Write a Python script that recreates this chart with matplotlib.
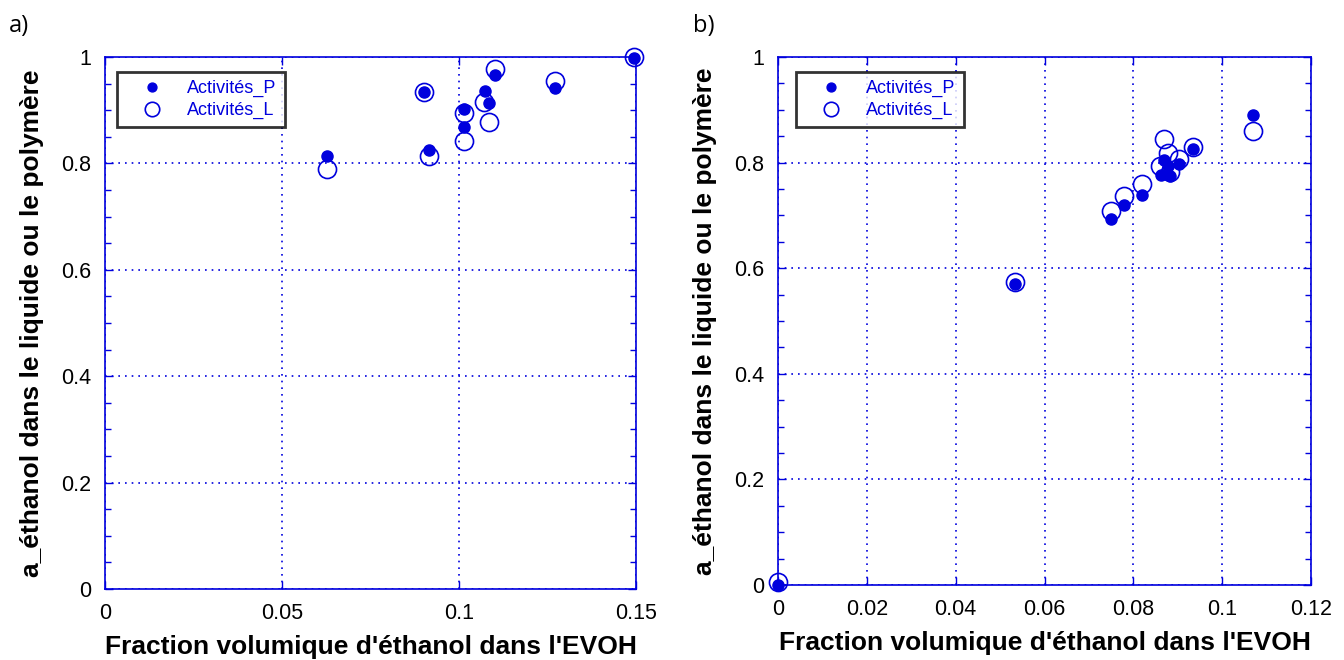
import matplotlib
matplotlib.use("Agg")
import matplotlib.pyplot as plt
from matplotlib.ticker import MultipleLocator

# Panel a data
a_x_P = [0.0626, 0.0901, 0.0916, 0.1015, 0.1015, 0.1073, 0.1086, 0.1102, 0.1271, 0.1494]
a_y_P = [0.813, 0.934, 0.825, 0.902, 0.868, 0.936, 0.913, 0.967, 0.942, 0.999]
a_x_L = [0.0626, 0.0901, 0.0916, 0.1015, 0.1015, 0.1071, 0.1086, 0.1102, 0.1271, 0.1494]
a_y_L = [0.789, 0.935, 0.813, 0.894, 0.843, 0.915, 0.877, 0.978, 0.955, 1.000]

# Panel b data
b_x_P = [0.0, 0.0534, 0.0750, 0.0778, 0.0819, 0.0862, 0.0869, 0.0879, 0.0882, 0.0902, 0.0934, 0.1069]
b_y_P = [0.0, 0.570, 0.694, 0.719, 0.739, 0.776, 0.805, 0.794, 0.775, 0.798, 0.825, 0.891]
b_x_L = [0.0, 0.0534, 0.0750, 0.0778, 0.0819, 0.0860, 0.0868, 0.0879, 0.0882, 0.0903, 0.0934, 0.1069]
b_y_L = [0.005, 0.574, 0.709, 0.737, 0.760, 0.794, 0.845, 0.818, 0.783, 0.806, 0.830, 0.859]

a_xticks = [0, 0.05, 0.1, 0.15]
a_xticklabels = ["0", "0.05", "0.1", "0.15"]
b_xticks = [0, 0.02, 0.04, 0.06, 0.08, 0.1, 0.12]
b_xticklabels = ["0", "0.02", "0.04", "0.06", "0.08", "0.1", "0.12"]
yticks = [0, 0.2, 0.4, 0.6, 0.8, 1.0]
yticklabels = ["0", "0.2", "0.4", "0.6", "0.8", "1"]

xlabel = "Fraction volumique d'éthanol dans l'EVOH"
ylabel = "a_éthanol dans le liquide ou le polymère"
leg_P = "Activités_P"
leg_L = "Activités_L"

BLUE = "#0000dd"
plt.rcParams['font.family'] = ['Liberation Sans', 'DejaVu Sans']

fig = plt.figure(figsize=(13.44, 6.6), dpi=100)
ax_a = fig.add_axes([105/1344, 1-589/660, (636-105)/1344, (589-57)/660])
ax_b = fig.add_axes([778/1344, 1-585/660, (1311-778)/1344, (585-57)/660])

def style(ax, xp, yp, xl, yl, xt, xtl, xlim, legend_anchor):
    ax.plot(xl, yl, linestyle='none', marker='o', markersize=13, markerfacecolor='none',
            markeredgecolor=BLUE, markeredgewidth=1.2, label=leg_L, zorder=3, clip_on=False)
    ax.plot(xp, yp, linestyle='none', marker='o', markersize=8, color=BLUE,
            label=leg_P, zorder=4, clip_on=False)
    ax.set_xlim(*xlim)
    ax.set_ylim(0, 1)
    ax.set_xticks(xt)
    ax.set_xticklabels(xtl)
    ax.set_yticks(yticks)
    ax.set_yticklabels(yticklabels)
    ax.yaxis.set_minor_locator(MultipleLocator(0.05))
    ax.tick_params(which='both', direction='in', top=True, right=True, color=BLUE,
                   labelcolor='black', labelsize=15.5, pad=10)
    ax.tick_params(which='major', length=6, width=1)
    ax.tick_params(which='minor', length=4, width=1)
    ax.grid(True, which='major', linestyle=(0, (1, 3)), color=BLUE, linewidth=1.2)
    for s in ax.spines.values():
        s.set_color(BLUE)
        s.set_linewidth(1.2)
    ax.set_xlabel(xlabel, fontsize=19, fontweight='bold', labelpad=8)
    ax.set_ylabel(ylabel, fontsize=19, fontweight='bold', labelpad=12)
    h, l = ax.get_legend_handles_labels()
    leg = ax.legend([h[1], h[0]], [l[1], l[0]], loc='upper left', bbox_to_anchor=legend_anchor,
                    fontsize=13, labelcolor=BLUE, frameon=True, fancybox=False,
                    edgecolor='black', borderpad=0.45, handletextpad=0.45, markerscale=0.8,
                    borderaxespad=0, labelspacing=0.25, handlelength=3.0)
    leg.get_frame().set_linewidth(2)

style(ax_a, a_x_P, a_y_P, a_x_L, a_y_L, a_xticks, a_xticklabels, (0, 0.15), (12/531, 1-15/532))
style(ax_b, b_x_P, b_y_P, b_x_L, b_y_L, b_xticks, b_xticklabels, (0, 0.12), (18/533, 1-15/528))

fig.text(9/1344, 1-32/660, "a)", fontsize=17, family=['Open Sans', 'DejaVu Sans'], va='baseline')
fig.text(693/1344, 1-32/660, "b)", fontsize=17, family=['Open Sans', 'DejaVu Sans'], va='baseline')

fig.savefig("out.png", dpi=100)
